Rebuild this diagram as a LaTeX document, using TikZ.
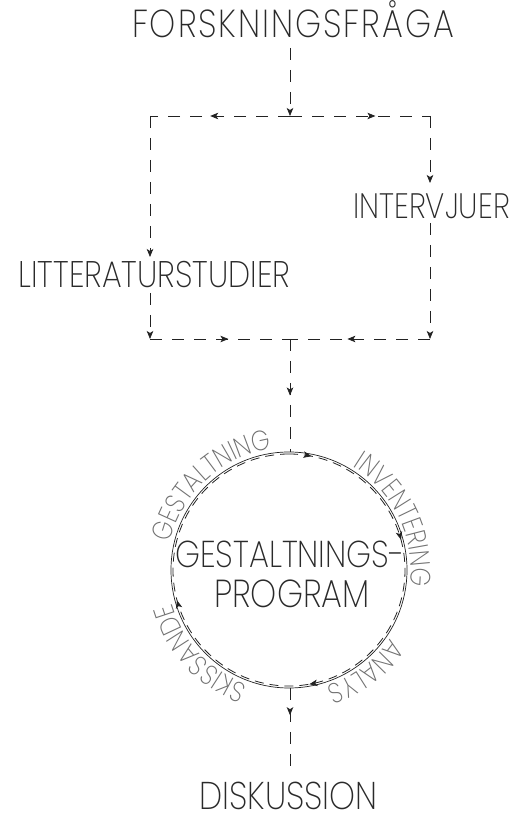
\documentclass[tikz,border=0pt]{standalone}
\usepackage{fontspec}
\setmainfont{Poppins ExtraLight}[FakeStretch=0.85]
\usetikzlibrary{arrows.meta,decorations.markings,decorations.text}
\definecolor{ink}{HTML}{222222}
\definecolor{txt}{HTML}{2A2A2A}
\definecolor{arcgrey}{HTML}{707070}
\newcommand\arcfont{\fontsize{28}{28}\selectfont\color{arcgrey}}
\tikzset{
  flow/.style={draw=ink, line width=0.8pt, dash pattern=on 12pt off 10pt},
  tip/.style={-{Stealth[length=8pt,width=6.5pt,inset=2pt]}},
  midarrow/.style={postaction={decorate}, decoration={markings,
      mark=at position #1 with {\arrow{Stealth[length=8pt,width=6.5pt,inset=2pt]}}}},
  lbl/.style={text=txt, inner sep=0pt, anchor=base},
  arctext/.style={decorate, decoration={text along path, text align=center, text={|\arcfont|#1}}},
}
\begin{document}
\begin{tikzpicture}[x=1pt,y=1pt]
\useasboundingbox (0,0) rectangle (514,814);
% labels
\node[lbl, font=\fontsize{39}{39}\selectfont\addfontfeatures{LetterSpace=5}] (q) at (293,776) {FORSKNINGSFRÅGA};
\node[lbl, font=\fontsize{37}{37}\selectfont] (lit) at (154.5,526) {LITTERATURSTUDIER};
\node[lbl, font=\fontsize{35.3}{35.3}\selectfont] (int) at (431.5,595) {INTERVJUER};
\node[lbl, font=\fontsize{37.4}{37.4}\selectfont] (gp1) at (290,246) {GESTALTNINGS-};
\node[lbl, font=\fontsize{39}{39}\selectfont] (gp2) at (292,206) {PROGRAM};
\node[lbl, font=\fontsize{38.7}{38.7}\selectfont] (dis) at (288.5,4.5) {DISKUSSION};
% coordinates
\coordinate (qs) at (290,766);
\coordinate (tm) at (290,698);
\coordinate (tl) at (150,698);
\coordinate (tr) at (430,698);
\coordinate (la) at (150,557);
\coordinate (lb) at (150,521);
\coordinate (ra) at (430,631);
\coordinate (rb) at (430,591);
\coordinate (bl) at (150,475);
\coordinate (br) at (430,475);
\coordinate (bm) at (290,475);
\coordinate (c) at (289,244);
\coordinate (ct) at (290,362);
\coordinate (cb) at (290,126);
\coordinate (da) at (290,41);
% connectors
\draw[flow, tip] (qs) -- (tm);
\draw[flow, midarrow=0.57] (tm) -- (tl);
\draw[flow, midarrow=0.61] (tm) -- (tr);
\draw[flow, tip] (tl) -- (la);
\draw[flow, tip] (lb) -- (bl);
\draw[flow, tip] (tr) -- (ra);
\draw[flow, tip] (rb) -- (br);
\draw[flow, midarrow=0.56] (bl) -- (bm);
\draw[flow, midarrow=0.59] (br) -- (bm);
\draw[flow, midarrow=0.5] (bm) -- (ct);
\draw[flow, midarrow=0.32] (cb) -- (da);
% cycle
\draw[ink, line width=0.7pt] (c) circle[radius=118];
\draw[ink, line width=0.8pt, dash pattern=on 9pt off 6pt,
  postaction={decorate}, decoration={markings,
    mark=at position 0.031 with {\arrow{Stealth[length=8pt,width=6.5pt,inset=2pt]}},
    mark=at position 0.208 with {\arrow{Stealth[length=8pt,width=6.5pt,inset=2pt]}},
    mark=at position 0.472 with {\arrow{Stealth[length=8pt,width=6.5pt,inset=2pt]}},
    mark=at position 0.708 with {\arrow{Stealth[length=8pt,width=6.5pt,inset=2pt]}}}]
  (c) ++(90:116) arc[start angle=90, end angle=-270, radius=116];
% arc labels
\path[arctext=GESTALTNING] (c) ++(177.5:122) arc[start angle=177.5, end angle=87.5, radius=122];
\path[arctext=INVENTERING] (c) ++(70.5:122) arc[start angle=70.5, end angle=-19.5, radius=122];
\path[arctext=ANALYS] (c) ++(-18:122) arc[start angle=-18, end angle=-88, radius=122];
\path[arctext=SKISSANDE] (c) ++(-97:122) arc[start angle=-97, end angle=-177, radius=122];
\end{tikzpicture}
\end{document}
